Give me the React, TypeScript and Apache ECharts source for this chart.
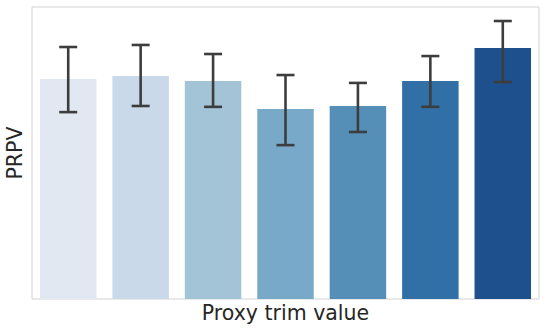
import React, { useEffect, useRef } from "react";
import * as echarts from "echarts";

const categories = ["1", "2", "3", "4", "5", "6", "7"];
const values = [0.753, 0.764, 0.747, 0.651, 0.661, 0.747, 0.86];
const errLow = [0.64, 0.661, 0.658, 0.527, 0.572, 0.658, 0.743];
const errHigh = [0.863, 0.87, 0.839, 0.767, 0.74, 0.832, 0.952];
const colors = ["#e1e8f1", "#c9d9e9", "#a3c3d6", "#78a9c9", "#558fb7", "#3170a7", "#1d508d"];

export default function App() {
  const ref = useRef<HTMLDivElement>(null);
  useEffect(() => {
    const chart = echarts.init(ref.current!, null, { renderer: "svg" });
    chart.setOption({
      animation: false,
      grid: {
        left: 32,
        top: 7,
        right: 7,
        bottom: 31,
        containLabel: false,
        outerBoundsMode: "none",
        show: true,
        borderColor: "#d3d3d3",
        borderWidth: 1,
        backgroundColor: "#ffffff",
      },
      xAxis: {
        type: "category",
        data: categories,
        axisLabel: { show: false },
        axisTick: { show: false },
        axisLine: { show: false },
        name: "Proxy trim value",
        nameLocation: "middle",
        nameGap: 3,
        nameTextStyle: { fontFamily: "DejaVu Sans", fontSize: 20.5, color: "#262626", verticalAlign: "top" },
      },
      yAxis: {
        type: "value",
        min: 0,
        max: 1,
        axisLabel: { show: false },
        axisTick: { show: false },
        axisLine: { show: false },
        splitLine: { show: false },
        name: "PRPV",
        nameLocation: "middle",
        nameGap: 7,
        nameTextStyle: { fontFamily: "DejaVu Sans", fontSize: 20.5, color: "#262626" },
      },
      series: [
        {
          type: "bar",
          barWidth: "78%",
          data: values.map((v, i) => ({ value: v, itemStyle: { color: colors[i] } })),
        },
        {
          type: "custom",
          z: 10,
          data: categories.map((c, i) => [i, errLow[i], errHigh[i]]),
          renderItem: (params: any, api: any) => {
            const i = api.value(0);
            const lo = api.coord([i, api.value(1)]);
            const hi = api.coord([i, api.value(2)]);
            const half = 9;
            const style = { stroke: "#3d3d3d", lineWidth: 2.6 };
            return {
              type: "group",
              children: [
                { type: "line", shape: { x1: lo[0], y1: lo[1], x2: hi[0], y2: hi[1] }, style },
                { type: "line", shape: { x1: lo[0] - half, y1: lo[1], x2: lo[0] + half, y2: lo[1] }, style },
                { type: "line", shape: { x1: hi[0] - half, y1: hi[1], x2: hi[0] + half, y2: hi[1] }, style },
              ],
            };
          },
        },
      ],
    });
    return () => chart.dispose();
  }, []);
  return <div ref={ref} style={{ width: 546, height: 330, position: "absolute", left: 0, top: 0 }} />;
}
